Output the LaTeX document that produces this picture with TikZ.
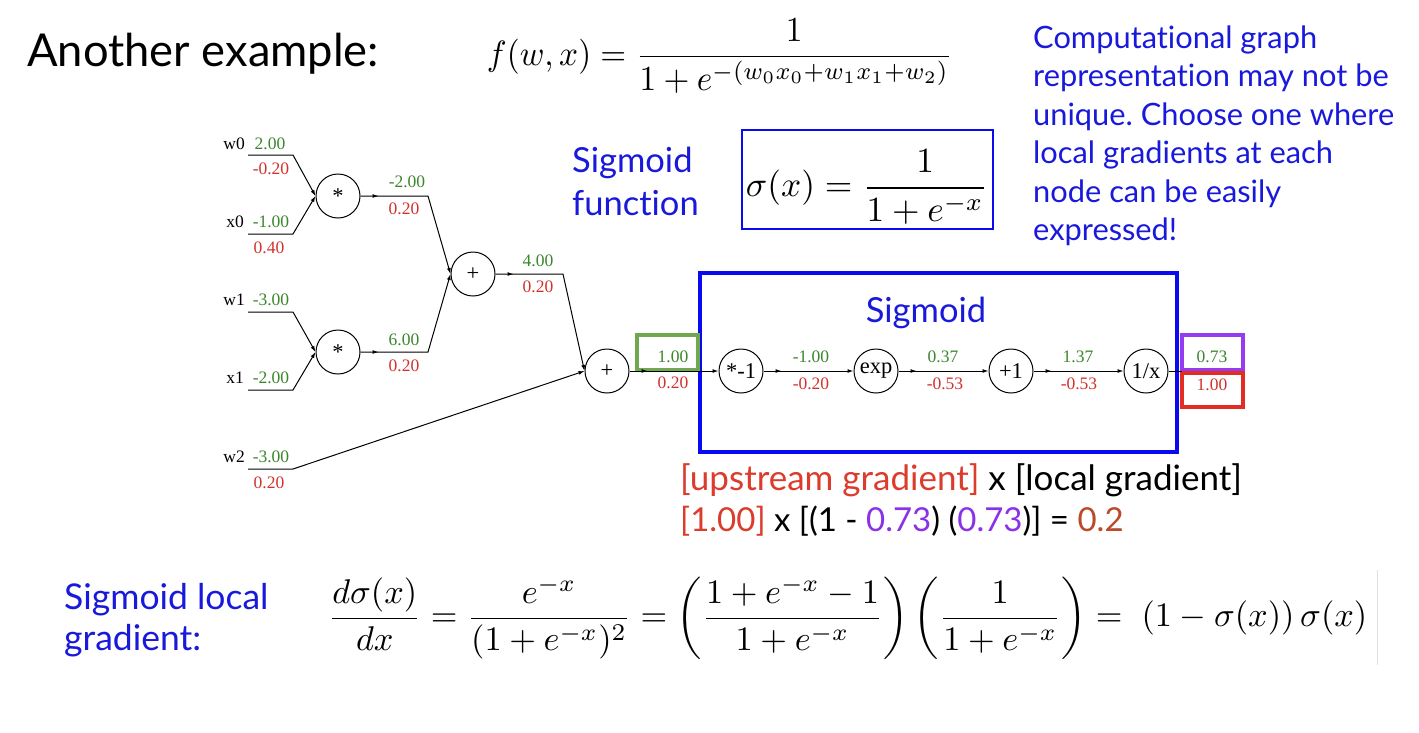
\documentclass[tikz,border=0pt]{standalone}
\usepackage[no-math]{fontspec}
\usepackage{amsmath}
\usepackage{graphicx}
\setmainfont{Lato}[Ligatures=NoCommon]
\newfontfamily\timesf{Liberation Serif}
\usetikzlibrary{arrows.meta,decorations.markings}
\frenchspacing
\definecolor{txtblue}{RGB}{25,25,220}
\definecolor{gval}{RGB}{60,135,45}
\definecolor{rval}{RGB}{210,50,45}
\definecolor{boxgreen}{RGB}{112,168,80}
\definecolor{boxpurple}{RGB}{150,60,240}
\definecolor{boxred}{RGB}{225,45,35}
\definecolor{boxblue}{RGB}{10,10,240}
\definecolor{upred}{RGB}{220,60,45}
\definecolor{purp}{RGB}{140,50,230}
\definecolor{brn}{RGB}{185,75,40}
\tikzset{
  gnode/.style={circle, draw, line width=1pt, minimum size=44pt, inner sep=0pt, font=\timesf\fontsize{22.5}{22.5}\selectfont},
  edge/.style={line width=1pt, -{Latex[length=6pt,width=4pt]}},
  plainedge/.style={line width=1pt},
  midarrow/.style={postaction={decorate}, decoration={markings, mark=at position 18pt with {\arrow{Latex[length=6pt,width=4pt]}}}},
  lbl/.style={font=\timesf\fontsize{17.5}{17.5}\selectfont, inner sep=0pt},
  gv/.style={lbl, text=gval},
  rv/.style={lbl, text=rval},
  bluetxt/.style={text=txtblue, inner sep=0pt, anchor=base west},
  paratxt/.style={bluetxt, font=\fontsize{30.8}{30.8}\selectfont},
  hbox/.style={line width=3.2pt},
}
\begin{document}
\begin{tikzpicture}[x=1pt,y=-1pt]
\useasboundingbox (0,0) rectangle (1419,732);
\fill[white] (0,0) rectangle (1419,732);

% title and formulas
\node[anchor=base west, inner sep=0pt, font=\fontsize{45.3}{45.3}\selectfont] (title) at (27,66) {Another example:};
\node[inner sep=0pt] (feq) at (720,56) {\resizebox*{466pt}{74pt}{$\displaystyle f(w,x)=\frac{1}{1+e^{-(w_0x_0+w_1x_1+w_2)}}$}};

% right explanatory text
\node[paratxt] (c1) at (1033,48) {Computational graph};
\node[paratxt] (c2) at (1033,86.5) {representation may not be};
\node[paratxt] (c3) at (1033,125) {unique. Choose one where};
\node[paratxt] (c4) at (1033,163.5) {local gradients at each};
\node[paratxt] (c5) at (1033,202) {node can be easily};
\node[paratxt] (c6) at (1033,240.5) {expressed!};

% sigmoid function
\node[bluetxt, font=\fontsize{34.5}{34.5}\selectfont] (sf1) at (572,172) {Sigmoid};
\node[bluetxt, font=\fontsize{34.5}{34.5}\selectfont] (sf2) at (572,215) {function};
\draw[boxblue, line width=2pt] (742,130) rectangle (993,229);
\node[inner sep=0pt] (sigeq) at (867,187) {\resizebox{242pt}{!}{$\displaystyle \sigma(x)=\frac{1}{1+e^{-x}}$}};

% sigmoid box
\draw[boxblue, hbox] (700,273) rectangle (1177,452);
\node[bluetxt, anchor=base, font=\fontsize{34.5}{34.5}\selectfont] (sigt) at (926,322) {Sigmoid};

% highlight boxes
\draw[boxgreen, hbox] (637,335) rectangle (698,370);
\draw[boxpurple, hbox] (1182,335) rectangle (1243,370);
\draw[boxred, hbox] (1182,373) rectangle (1243,407);

% graph nodes
\node[gnode] (star1) at (338,196) {*};
\node[gnode] (star2) at (338,352) {*};
\node[gnode] (plus1) at (473,274) {+};
\node[gnode] (plus2) at (607,371) {+};
\node[gnode] (neg) at (741,371) {*-1};
\node[gnode] (expn) at (876,371) {exp};
\node[gnode] (pone) at (1011,371) {+1};
\node[gnode] (inv) at (1146,371) {1/x};

% input coordinates
\coordinate (w0s) at (248,155); \coordinate (w0e) at (293,155);
\coordinate (x0s) at (248,234); \coordinate (x0e) at (293,234);
\coordinate (w1s) at (248,312); \coordinate (w1e) at (293,312);
\coordinate (x1s) at (248,390); \coordinate (x1e) at (293,390);
\coordinate (w2s) at (248,469); \coordinate (w2e) at (293,469);
\coordinate (s1b) at (428,196);
\coordinate (s2b) at (428,352);
\coordinate (p1b) at (563,274);
\coordinate (outend) at (1182,371);

% edges
\draw[edge] (w0s) -- (w0e) -- (star1.west);
\draw[edge] (x0s) -- (x0e) -- (star1.west);
\draw[edge] (w1s) -- (w1e) -- (star2.west);
\draw[edge] (x1s) -- (x1e) -- (star2.west);
\draw[edge] (w2s) -- (w2e) -- (plus2.west);
\draw[edge, midarrow] (star1.east) -- (s1b) -- (plus1.west);
\draw[edge, midarrow] (star2.east) -- (s2b) -- (plus1.west);
\draw[edge, midarrow] (plus1.east) -- (p1b) -- (plus2.west);
\draw[edge, midarrow] (plus2.east) -- (neg.west);
\draw[edge, midarrow] (neg.east) -- (expn.west);
\draw[edge, midarrow] (expn.east) -- (pone.west);
\draw[edge, midarrow] (pone.east) -- (inv.west);
\draw[plainedge] (inv.east) -- (outend);

% input labels
\node[lbl, anchor=east] (lw0) at (245,144) {w0};
\node[lbl, anchor=east] (lx0) at (244,222) {x0};
\node[lbl, anchor=east] (lw1) at (245,300) {w1};
\node[lbl, anchor=east] (lx1) at (244,378) {x1};
\node[lbl, anchor=east] (lw2) at (245,457) {w2};

% values
\node[gv] (g1) at (270,144) {2.00};
\node[rv] (r1) at (271,169) {-0.20};
\node[gv] (g2) at (271,222) {-1.00};
\node[rv] (r2) at (269,248) {0.40};
\node[gv] (g3) at (271,300) {-3.00};
\node[gv] (g4) at (271,378) {-2.00};
\node[gv] (g5) at (271,457) {-3.00};
\node[rv] (r5) at (269,483) {0.20};
\node[gv] (g6) at (407,182) {-2.00};
\node[rv] (r6) at (404,209) {0.20};
\node[gv] (g7) at (404,340) {6.00};
\node[rv] (r7) at (404,366) {0.20};
\node[gv] (g8) at (538,261) {4.00};
\node[rv] (r8) at (538,287) {0.20};
\node[gv] (g9) at (673,357) {1.00};
\node[rv] (r9) at (673,383) {0.20};
\node[gv] (g10) at (811,357) {-1.00};
\node[rv] (r10) at (811,384) {-0.20};
\node[gv] (g11) at (943,357) {0.37};
\node[rv] (r11) at (945,384) {-0.53};
\node[gv] (g12) at (1078,357) {1.37};
\node[rv] (r12) at (1079,384) {-0.53};
\node[gv] (g13) at (1212,357) {0.73};
\node[rv] (r13) at (1212,385) {1.00};

% upstream gradient text
\node[anchor=base west, inner sep=0pt, font=\fontsize{35}{35}\selectfont] (up1) at (680,490) {\textcolor{upred}{[upstream gradient]} x [local gradient]};
\node[anchor=base west, inner sep=0pt, font=\fontsize{33}{33}\selectfont] (up2) at (680,531) {\textcolor{upred}{[1.00]} x [(1 - \textcolor{purp}{0.73}) (\textcolor{purp}{0.73})] = \textcolor{brn}{0.2}};

% sigmoid local gradient
\node[bluetxt, font=\fontsize{35.5}{35.5}\selectfont] (sl1) at (64,609) {Sigmoid local};
\node[bluetxt, font=\fontsize{35.5}{35.5}\selectfont] (sl2) at (64,650) {gradient:};
\node[anchor=west, inner sep=0pt] (gradeq) at (328,618) {\resizebox{1039pt}{!}{$\displaystyle \frac{d\sigma(x)}{dx}=\frac{e^{-x}}{(1+e^{-x})^2}=\left(\frac{1+e^{-x}-1}{1+e^{-x}}\right)\left(\frac{1}{1+e^{-x}}\right)=\;(1-\sigma(x))\,\sigma(x)$}};
\draw[black!12, line width=1pt] (1377,570) -- (1377,665);
\end{tikzpicture}
\end{document}
